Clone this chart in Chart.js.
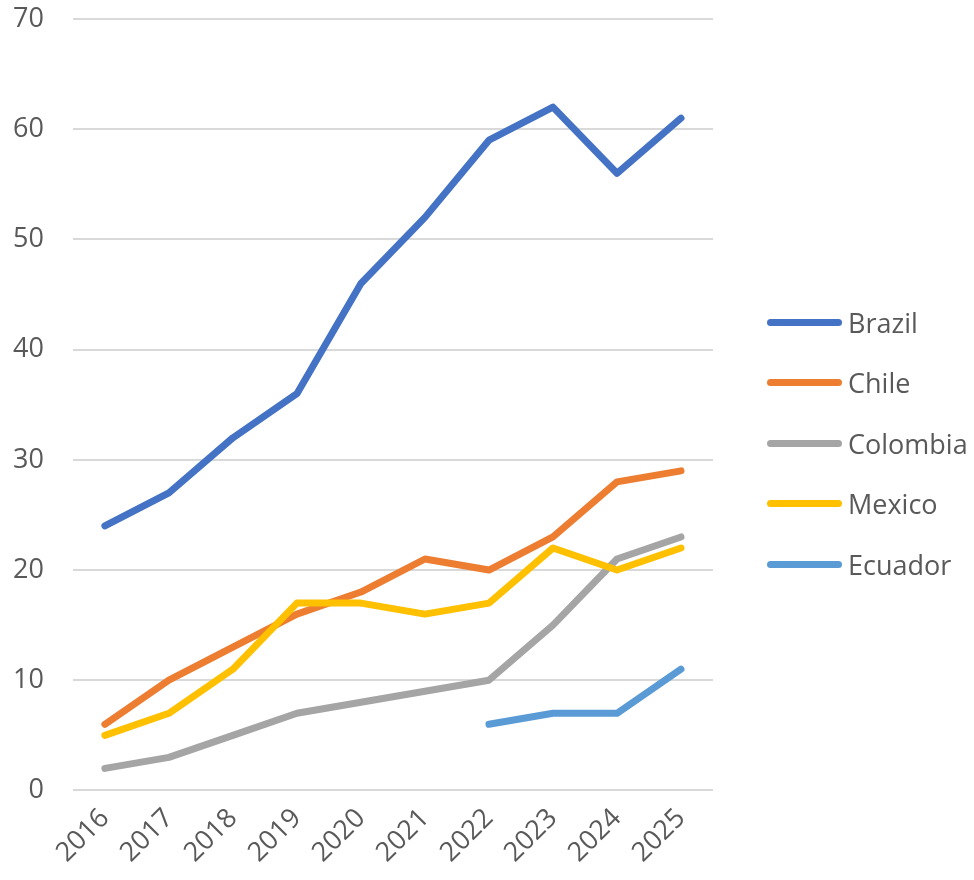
<!DOCTYPE html>
<html>
<head>
<meta charset="utf-8">
<script src="https://cdn.jsdelivr.net/npm/chart.js@4"></script>
<style>
  body { margin: 0; background: #fff; }
  #wrap { position: relative; width: 974px; height: 880px; }
  #legend { position: absolute; left: 767px; top: 302px; font-family: "Open Sans", sans-serif; font-size: 27px; color: #595959; }
  #legend .item { display: flex; align-items: center; height: 40px; margin-bottom: 20.5px; }
  #legend .swatch { width: 75px; height: 7px; border-radius: 4px; margin-right: 6px; }
</style>
</head>
<body>
<div id="wrap">
  <canvas id="chart" width="974" height="880"></canvas>
  <div id="legend"></div>
</div>
<script>
// yearly counts per country
const years = ["2016", "2017", "2018", "2019", "2020", "2021", "2022", "2023", "2024", "2025"];
const brazil   = [24, 27, 32, 36, 46, 52, 59, 62, 56, 61];
const chile    = [6, 10, 13, 16, 18, 21, 20, 23, 28, 29];
const colombia = [2, 3, 5, 7, 8, 9, 10, 15, 21, 23];
const mexico   = [5, 7, 11, 17, 17, 16, 17, 22, 20, 22];
const ecuador  = [null, null, null, null, null, null, 6, 7, 7, 11];
const yTicks   = [0, 10, 20, 30, 40, 50, 60, 70];

const seriesNames = ["Brazil", "Chile", "Colombia", "Mexico", "Ecuador"];
const seriesData = [brazil, chile, colombia, mexico, ecuador];
const colors = ["#4472C4", "#ED7D31", "#A5A5A5", "#FFC000", "#5B9BD5"];

document.addEventListener("DOMContentLoaded", () => {
  const datasets = seriesNames.map((name, i) => ({
    label: name,
    data: seriesData[i],
    borderColor: colors[i],
    backgroundColor: colors[i],
    borderWidth: 7,
    borderCapStyle: "round",
    borderJoinStyle: "round",
    pointRadius: 0,
    pointHoverRadius: 0,
    tension: 0,
    spanGaps: false,
    // later series sit on top
    order: seriesNames.length - i
  }));

  new Chart(document.getElementById("chart"), {
    type: "line",
    data: { labels: years, datasets },
    options: {
      responsive: false,
      animation: false,
      // the rotated first x label reserves extra room on the left; pull it back
      layout: { padding: { top: 19, left: -16, right: 261, bottom: 7 } },
      plugins: { legend: { display: false }, tooltip: { enabled: false } },
      scales: {
        x: {
          offset: true,
          grid: { display: false },
          border: { display: false },
          ticks: {
            color: "#595959",
            font: { family: "Open Sans", size: 27 },
            minRotation: 45,
            maxRotation: 45,
            padding: 4
          }
        },
        y: {
          min: 0,
          max: 70,
          afterBuildTicks: axis => { axis.ticks = yTicks.map(v => ({ value: v })); },
          afterFit: axis => { axis.paddingTop = 0; axis.paddingBottom = 0; },
          grid: { color: "#D9D9D9", lineWidth: 2, drawTicks: false },
          border: { display: false },
          ticks: {
            color: "#595959",
            font: { family: "Open Sans", size: 27 },
            padding: 29
          }
        }
      }
    }
  });

  // legend built from the same names and colours
  document.getElementById("legend").innerHTML = seriesNames
    .map((name, i) => `<div class="item"><div class="swatch" style="background:${colors[i]}"></div><span>${name}</span></div>`)
    .join("");
});
</script>
</body>
</html>
